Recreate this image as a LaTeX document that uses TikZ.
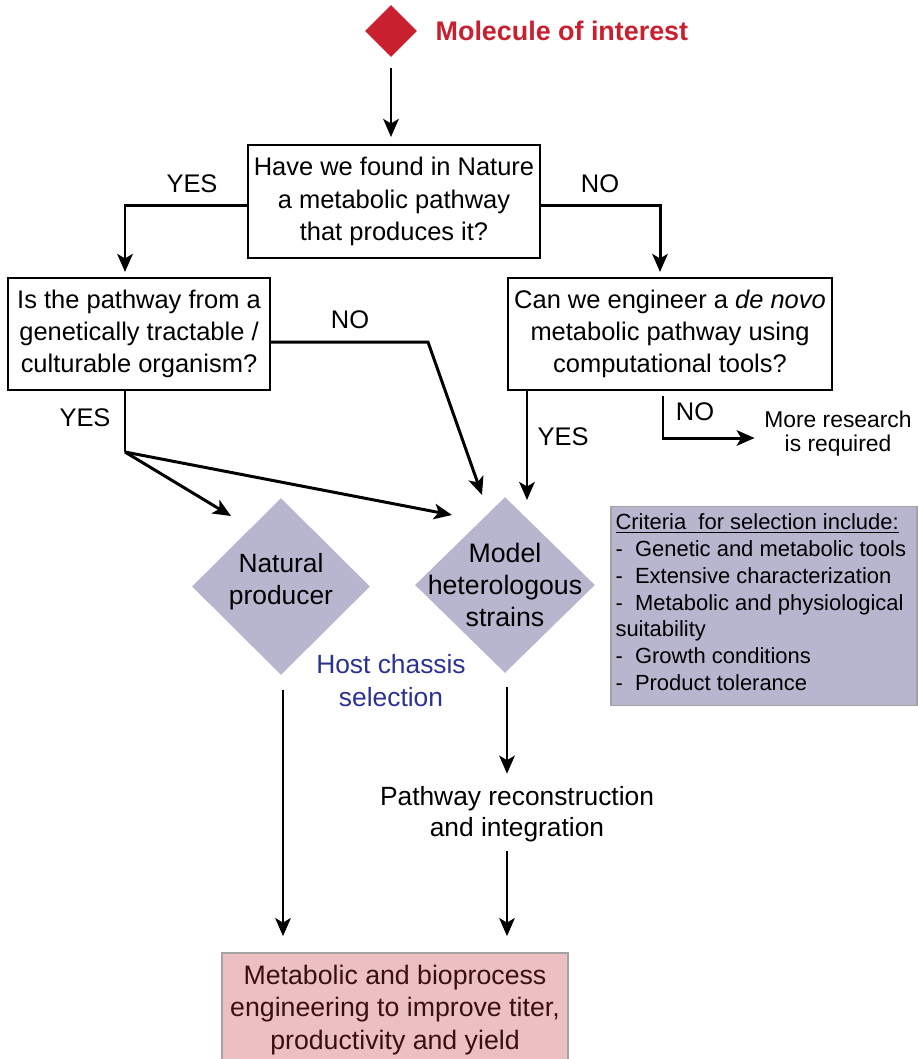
\documentclass[tikz,border=0pt]{standalone}
\usepackage{fontspec}
\setmainfont{Liberation Sans}
\usetikzlibrary{arrows.meta, positioning, shapes.geometric}
\definecolor{molred}{HTML}{C8202F}
\definecolor{hostgrey}{HTML}{B8B6CF}
\definecolor{edgegrey}{HTML}{A3A3A3}
\definecolor{procpink}{HTML}{ECBFC3}
\definecolor{chassisblue}{HTML}{2B3290}
\definecolor{proctext}{HTML}{3A0F14}
\tikzset{
  qbox/.style={rectangle, draw=black, line width=1.2pt, fill=white,
               minimum height=2.24cm, align=center, inner sep=1pt,
               font=\fontsize{14.5}{18.4}\selectfont},
  hostdiamond/.style={diamond, fill=hostgrey, inner sep=0pt},
  hosttext/.style={align=center, font=\fontsize{15.2}{18.4}\selectfont},
  answer/.style={font=\fontsize{14.5}{16}\selectfont},
  flow/.style={-{Stealth[length=3.6mm,width=3.1mm,inset=0.9mm]}, line width=1.7pt},
  plainflow/.style={line width=1.7pt},
  notebox/.style={rectangle, draw=edgegrey, line width=0.8pt, fill=hostgrey,
                  inner xsep=0.09cm, inner ysep=0.14cm,
                  font=\fontsize{12.5}{15.3}\selectfont},
  procbox/.style={rectangle, draw=edgegrey, line width=1pt, fill=procpink,
                  text=proctext, align=center, minimum width=6.92cm,
                  minimum height=2.28cm, font=\fontsize{15.2}{18.4}\selectfont},
}

\begin{document}
\begin{tikzpicture}[x=0.02cm, y=-0.02cm]
  \useasboundingbox (0,0) rectangle (918,1059);

  % --- start: the target molecule ---
  \node[diamond, fill=molred, minimum size=1.04cm, inner sep=0pt] (molecule) at (391,31) {};
  \node[right=0.36cm of molecule, inner sep=0pt, text=molred,
        font=\fontsize{15.3}{18}\selectfont\bfseries] (moltitle) {Molecule of interest};

  % --- questions ---
  \node[qbox, minimum width=5.84cm, minimum height=2.26cm] (found) at (394,201.5)
       {Have we found in Nature\\a metabolic pathway\\that produces it?};
  \node[qbox, minimum width=5.24cm] (pathway) at (139,334)
       {Is the pathway from a\\genetically tractable /\\culturable organism?};
  \node[qbox, minimum width=6.48cm] (design) at (670,334)
       {Can we engineer a \textit{de novo}\\metabolic pathway using\\computational tools?};
  \node[align=center, font=\fontsize{13}{13.6}\selectfont] (research) at (838,434)
       {More research\\is required};

  % --- host chassis ---
  \node[hostdiamond, minimum width=3.56cm, minimum height=3.54cm] (natural) at (281,586.5) {};
  \node[hosttext, font=\fontsize{15}{18}\selectfont] (naturaltext) at ([yshift=0.1cm]natural) {Natural\\producer};
  \node[hostdiamond, minimum width=3.6cm, minimum height=3.52cm] (model) at (505,585) {};
  \node[hosttext] (modeltext) at (model) {Model\\heterologous\\strains};
  \node[align=center, text=chassisblue, font=\fontsize{15}{18.8}\selectfont] (chassis) at (391,681)
       {Host chassis\\selection};
  \node[notebox] (criteria) at (764,606)
       {\begin{minipage}[c][3.7cm][t]{5.94cm}\raggedright
        \underline{Criteria\ \ for selection include:}\\
        -\ \ Genetic and metabolic tools\\
        -\ \ Extensive characterization\\
        -\ \ Metabolic and physiological\\
        suitability\\
        -\ \ Growth conditions\\
        -\ \ Product tolerance
        \end{minipage}};

  % --- downstream ---
  \node[align=center, font=\fontsize{15}{18}\selectfont] (rebuild) at (517,814)
       {Pathway reconstruction\\and integration};
  \node[procbox] (process) at (395,1010)
       {Metabolic and bioprocess\\engineering to improve titer,\\productivity and yield};

  % --- answers ---
  \node[answer] (yestop) at (192,184) {YES};
  \node[answer] (notop) at (600,184) {NO};
  \node[answer] (noleft) at (350,320) {NO};
  \node[answer] (yesleft) at (85,418) {YES};
  \node[answer] (yesright) at (563,437) {YES};
  \node[answer] (noright) at (695,412) {NO};

  \coordinate (nobend) at (428,342);
  \coordinate (nohit) at (482,495);
  \coordinate (yesfork) at (125,452);
  \coordinate (natin) at (231,516);
  \coordinate (modin) at (452,515);
  \coordinate (desyes) at (527,500);
  \coordinate (nodrop) at (663,438);

  % Links
  \draw[flow, shorten <=0.22cm, shorten >=0.14cm] (molecule.south) -- (molecule.south |- found.north);
  \draw[flow, shorten >=0.1cm] ([yshift=-0.08cm]found.west) -| ([xshift=-0.28cm]pathway.north);
  \draw[flow, shorten >=0.1cm] ([yshift=-0.08cm]found.east) -| ([xshift=-0.2cm]design.north);
  \draw[flow] ([yshift=-0.16cm]pathway.east) -- (nobend) -- (nohit);
  \draw[plainflow] (pathway.south -| yesfork) -- (yesfork);
  \draw[flow] (yesfork) -- (natin);
  \draw[flow] (yesfork) -- (modin);
  \draw[flow] (design.south -| desyes) -- (desyes);
  \draw[flow, shorten >=2pt] ([yshift=-0.1cm]design.south -| nodrop) -- (nodrop) -- (nodrop -| research.west);
  \draw[flow, shorten >=0.32cm] ([yshift=-0.3cm]natural.south -| 283,0) -- (283,0 |- process.north);
  \draw[flow, shorten <=0.28cm, shorten >=0.12cm] (model.south -| 507,0) -- (507,0 |- rebuild.north);
  \draw[flow, shorten <=0.06cm, shorten >=0.32cm] (507,0 |- rebuild.south) -- (507,0 |- process.north);

\end{tikzpicture}
\end{document}
